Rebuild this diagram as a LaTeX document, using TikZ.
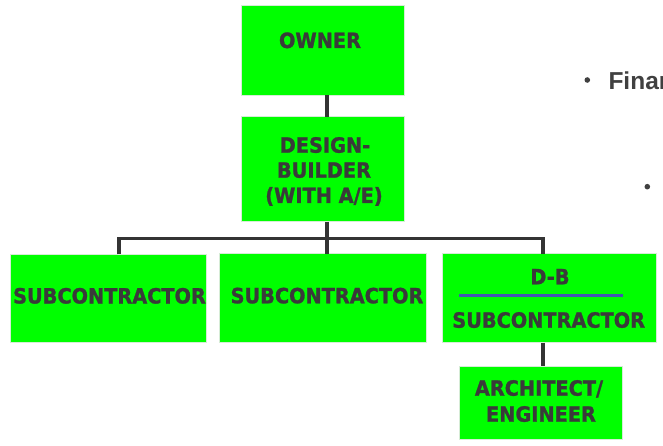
\documentclass[tikz,border=0pt]{standalone}
\usepackage{fontspec}
\setmainfont{DejaVu Sans}[FakeStretch=0.92, BoldFeatures={FakeBold=1.2}]
\newfontfamily\notefont{Liberation Sans}
\usetikzlibrary{fit}
\definecolor{boxgreen}{RGB}{0,255,0}
\definecolor{edgegreen}{RGB}{214,236,214}
\definecolor{inkgray}{RGB}{58,58,58}
\definecolor{linkgray}{RGB}{52,52,52}
\definecolor{notegray}{RGB}{64,64,64}
\definecolor{ruleblue}{RGB}{66,88,176}
\begin{document}
\begin{tikzpicture}[x=1pt,y=-1pt,
  box/.style={fill=boxgreen, draw=edgegreen, line width=0.8pt, inner sep=0pt, outer sep=0pt},
  caption/.style={anchor=base, inner sep=0pt, text=inkgray,
    font=\bfseries\fontsize{21}{25}\selectfont},
  link/.style={draw=linkgray, line width=3.6pt},
  divider/.style={draw=ruleblue, line width=3pt},
  notedot/.style={circle, fill=notegray, inner sep=0pt, minimum size=5.6pt},
  notetext/.style={anchor=base west, inner sep=0pt, text=notegray,
    font=\notefont\bfseries\fontsize{24.5}{29}\selectfont}]
\useasboundingbox (0,0) rectangle (663,446);
\clip (0,0) rectangle (663,446);

% boxes
\node[box, fit={(241.7,5.7) (404.3,95)}] (owner) {};
\node[box, fit={(241.7,116.7) (404.3,221.7)}] (db) {};
\node[box, fit={(10.7,254.3) (206.7,342.7)}] (s1) {};
\node[box, fit={(219,253.6) (426.7,342.7)}] (s2) {};
\node[box, fit={(442.5,253.8) (656.5,342.7)}] (s3) {};
\node[box, fit={(459,366) (622.7,439)}] (ae) {};

% box texts
\node[caption] (ownerlbl) at (320,48) {OWNER};
\node[caption] (dblblA) at (325,152.7) {DESIGN-};
\node[caption] (dblblB) at (324,177.7) {BUILDER};
\node[caption] (dblblC) at (324,203) {(WITH A/E)};
\node[caption] (s1lbl) at (109.5,303.5) {SUBCONTRACTOR};
\node[caption] (s2lbl) at (327,303.3) {SUBCONTRACTOR};
\node[caption] (s3lblA) at (550,284.3) {D-B};
\node[caption] (s3lblB) at (548.7,327.7) {SUBCONTRACTOR};
\node[caption] (aelblA) at (539,395.7) {ARCHITECT/};
\node[caption] (aelblB) at (541,421.7) {ENGINEER};

% rule between D-B and SUBCONTRACTOR
\draw[divider] (459,295) -- (623,295);

% connectors
\coordinate (spine) at (327,238.5);
\coordinate (leftdrop) at (118.7,238.5);
\coordinate (rightdrop) at (543,238.5);
\draw[link] (spine |- owner.south) -- (spine |- db.north);
\draw[link] (spine |- db.south) -- (spine |- s2.north);
\draw[link] (leftdrop |- s1.north) -- (leftdrop) -- (rightdrop) -- (rightdrop |- s3.north);
\draw[link] (rightdrop |- s3.south) -- (rightdrop |- ae.north);

% bullet notes at the right edge
\node[notedot] (dotA) at (587.3,80) {};
\node[notetext] (noteA) at (608.3,89.3) {Finan};
\node[notedot] (dotB) at (647.3,186.7) {};
\end{tikzpicture}
\end{document}
